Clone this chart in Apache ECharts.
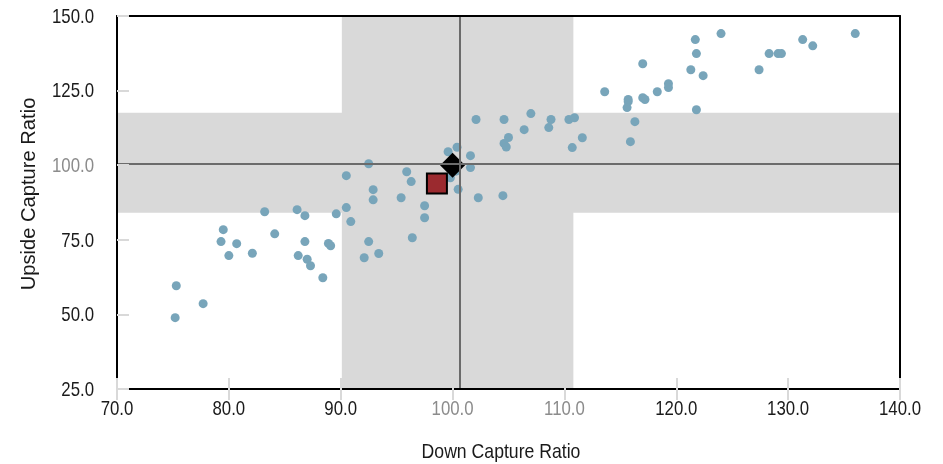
<!DOCTYPE html>
<html>
<head>
<meta charset="utf-8">
<script src="https://cdn.jsdelivr.net/npm/echarts@6/dist/echarts.min.js"></script>
<style>
html,body{margin:0;padding:0;background:#fff;}
#chart{width:943px;height:464px;}
</style>
</head>
<body>
<div id="chart"></div>
<script>
// ---- data ----
const xMin = 70, xMax = 140, xStep = 10;
const yMin = 25, yMax = 150, yStep = 25;
const xTicks = [70, 80, 90, 100, 110, 120, 130, 140];
const yTicks = [25, 50, 75, 100, 125, 150];
const xTitle = 'Down Capture Ratio';
const yTitle = 'Upside Capture Ratio';

const downCapture = [
  75.3, 77.7, 75.2, 79.5, 79.3, 80.7, 80.0, 82.1, 83.2, 84.1,
  86.1, 86.8, 86.8, 86.2, 87.0, 87.3, 88.9, 89.1, 88.4, 89.6,
  90.5, 90.9, 92.9, 92.9, 95.4, 92.5, 92.1, 93.4, 96.4, 92.5,
  90.5, 95.9, 96.3, 97.5, 97.5, 99.6, 100.4, 101.6, 101.6, 99.8,
  100.3, 100.5, 102.3, 104.5, 102.1, 104.6, 107.0, 105.0, 104.6, 104.8,
  106.4, 108.8, 108.6, 110.4, 110.9, 111.6, 110.7, 116.3, 115.9, 115.6,
  115.7, 115.7, 113.6, 117.0, 117.0, 117.2, 118.3, 119.3, 119.3, 121.7,
  121.8, 121.3, 122.4, 124.0, 121.8, 127.4, 128.3, 129.1, 129.4, 131.3,
  132.2, 136.0
];
const upCapture = [
  59.6, 53.6, 48.9, 78.4, 74.4, 73.7, 69.7, 70.5, 84.4, 77.0,
  85.1, 83.1, 74.4, 69.7, 68.5, 66.3, 73.8, 73.0, 62.3, 83.7,
  85.8, 81.1, 91.8, 88.4, 89.1, 74.4, 69.0, 70.4, 75.7, 100.5,
  96.5, 97.8, 94.5, 86.4, 82.4, 104.5, 106.0, 103.2, 99.2, 95.8,
  98.0, 91.9, 89.1, 89.8, 115.3, 115.3, 117.3, 109.3, 107.3, 106.1,
  111.9, 115.3, 112.6, 115.3, 115.9, 109.2, 105.9, 114.6, 107.9, 119.3,
  121.3, 122.0, 124.6, 134.0, 122.6, 122.0, 124.6, 127.3, 126.0, 142.1,
  137.4, 132.0, 130.0, 144.1, 118.6, 132.0, 137.4, 137.4, 137.4, 142.1,
  140.0, 144.1
];
const benchmarkPoint = [100.0, 100.0];
const fundPoint = [98.6, 93.9];
const bandDown = [90.1, 110.8];
const bandUp = [84.1, 117.6];
const crossDown = 100.6;
const crossUp = 100.5;
const grayXLabels = [100, 110];
const grayYLabels = [100];

// ---- chart ----
const FONT = '"Liberation Sans", Arial, sans-serif';
const DARK = '#1a1a1a', GRAY = '#8c8c8c', TICK = '#d9d9d9';
const LABEL_SIZE = 21, LABEL_SCALE = 0.8;
const TITLE_SIZE = 21, X_TITLE_SCALE = 0.84, Y_TITLE_SCALE = 0.96;
const chart = echarts.init(document.getElementById('chart'), null, {renderer: 'canvas'});

const scatterData = downCapture.map((d, i) => [d, upCapture[i]]);

const option = {
  animation: false,
  backgroundColor: '#fff',
  grid: {left: 117, right: 43, top: 16, bottom: 75, containLabel: false},
  xAxis: [
    {
      type: 'value', position: 'bottom', min: xMin, max: xMax, interval: xStep, z: 10,
      axisLine: {show: true, lineStyle: {color: '#000', width: 2}},
      axisTick: {show: true, inside: false, length: 11, lineStyle: {color: TICK, width: 2}},
      splitLine: {show: false}, axisLabel: {show: false}
    },
    {
      type: 'value', position: 'bottom', min: xMin, max: xMax, interval: xStep, z: 10,
      axisLine: {show: false},
      axisTick: {show: true, inside: true, length: 11, lineStyle: {color: TICK, width: 2}},
      splitLine: {show: false}, axisLabel: {show: false}
    },
    {
      type: 'value', position: 'top', min: xMin, max: xMax, interval: xStep, z: 10,
      axisLine: {show: true, lineStyle: {color: '#000', width: 2}},
      axisTick: {show: false}, splitLine: {show: false}, axisLabel: {show: false}
    }
  ],
  yAxis: [
    {
      type: 'value', position: 'left', min: yMin, max: yMax, interval: yStep, z: 10,
      axisLine: {show: true, lineStyle: {color: '#000', width: 2}},
      axisTick: {show: true, inside: true, length: 12, lineStyle: {color: TICK, width: 2}},
      splitLine: {show: false}, axisLabel: {show: false}
    },
    {
      type: 'value', position: 'right', min: yMin, max: yMax, interval: yStep, z: 10,
      axisLine: {show: true, lineStyle: {color: '#000', width: 2}},
      axisTick: {show: false}, splitLine: {show: false}, axisLabel: {show: false}
    }
  ],
  series: [
    {
      type: 'scatter', xAxisIndex: 0, yAxisIndex: 0, z: 1, silent: true,
      data: [],
      markArea: {
        silent: true,
        itemStyle: {color: '#d9d9d9', opacity: 1},
        data: [
          [{xAxis: bandDown[0], yAxis: yMin}, {xAxis: bandDown[1], yAxis: yMax}],
          [{xAxis: xMin, yAxis: bandUp[0]}, {xAxis: xMax, yAxis: bandUp[1]}]
        ]
      },
      markLine: {
        silent: true, symbol: 'none', label: {show: false},
        lineStyle: {color: '#6b6b6b', width: 2, type: 'solid'},
        data: [{xAxis: crossDown}, {yAxis: crossUp}]
      }
    },
    {
      type: 'scatter', xAxisIndex: 0, yAxisIndex: 0, z: 3, silent: true,
      symbol: 'circle', symbolSize: 9,
      itemStyle: {color: '#78a5ba', opacity: 1},
      data: scatterData
    },
    {
      type: 'scatter', xAxisIndex: 0, yAxisIndex: 0, z: 4, silent: true,
      symbol: 'diamond', symbolSize: 25,
      itemStyle: {color: '#000', opacity: 1},
      data: [benchmarkPoint]
    },
    {
      type: 'scatter', xAxisIndex: 0, yAxisIndex: 0, z: 4, silent: true,
      symbol: 'rect', symbolSize: 20,
      itemStyle: {color: '#9b2a2f', borderColor: '#000', borderWidth: 2, opacity: 1},
      data: [fundPoint]
    }
  ]
};
chart.setOption(option);

// Tick labels and axis titles as condensed text, positioned through the axes' scales
const toPx = (v) => chart.convertToPixel({xAxisIndex: 0, yAxisIndex: 0}, v);
const gfx = [];
xTicks.forEach(v => {
  const p = toPx([v, yMin]);
  gfx.push({
    type: 'text', z: 20, silent: true, x: p[0], y: p[1] + 20, scaleX: LABEL_SCALE,
    style: {text: v.toFixed(1), font: LABEL_SIZE + 'px ' + FONT,
      fill: grayXLabels.indexOf(v) >= 0 ? GRAY : DARK, align: 'center', verticalAlign: 'middle'}
  });
});
yTicks.forEach(v => {
  const p = toPx([xMin, v]);
  gfx.push({
    type: 'text', z: 20, silent: true, x: p[0] - 23, y: p[1] + 1, scaleX: LABEL_SCALE,
    style: {text: v.toFixed(1), font: LABEL_SIZE + 'px ' + FONT,
      fill: grayYLabels.indexOf(v) >= 0 ? GRAY : DARK, align: 'right', verticalAlign: 'middle'}
  });
});
gfx.push({
  type: 'text', z: 20, silent: true, x: 501, y: 452, scaleX: X_TITLE_SCALE,
  style: {text: xTitle, font: TITLE_SIZE + 'px ' + FONT, fill: DARK, align: 'center', verticalAlign: 'middle'}
});
gfx.push({
  type: 'text', z: 20, silent: true, x: 29, y: 194, rotation: Math.PI / 2, scaleX: Y_TITLE_SCALE,
  style: {text: yTitle, font: TITLE_SIZE + 'px ' + FONT, fill: DARK, align: 'center', verticalAlign: 'middle'}
});
chart.setOption({graphic: gfx});
</script>
</body>
</html>
